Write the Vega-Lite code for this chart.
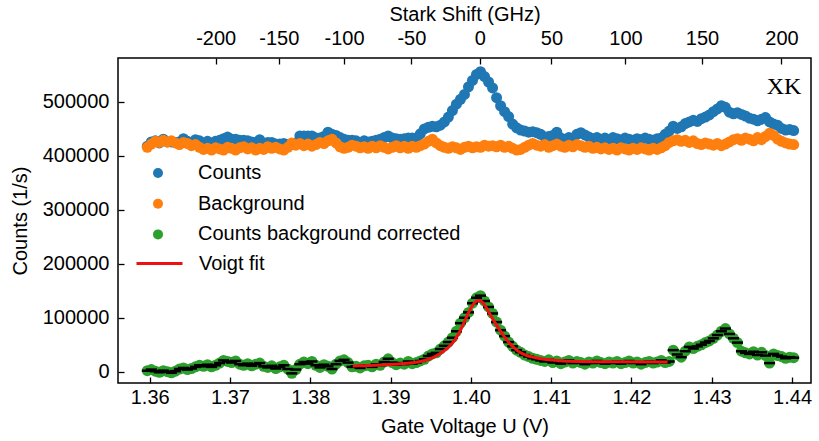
{
  "$schema": "https://vega.github.io/schema/vega-lite/v6.json",
  "width": 693,
  "height": 325,
  "autosize": {"type": "none"},
  "padding": {"left": 118, "top": 58, "right": 8, "bottom": 58},
  "background": "white",
  "config": {
    "font": "Liberation Sans",
    "view": {"stroke": "black", "strokeWidth": 1.5},
    "axis": {
      "grid": false,
      "domain": false,
      "labelFont": "Liberation Sans",
      "titleFont": "Liberation Sans",
      "labelFontSize": 20,
      "titleFontSize": 20,
      "titleFontWeight": "normal",
      "labelColor": "black",
      "titleColor": "black",
      "tickColor": "black",
      "tickWidth": 1.3,
      "tickSize": -6
    },
    "legend": {
      "title": null,
      "labelFont": "Liberation Sans",
      "labelFontSize": 20,
      "labelColor": "black",
      "labelLimit": 0
    }
  },
  "datasets": {
    "meas": [
      {"u":1.3597,"counts":418000,"background":416000,"corrected":2000},
      {"u":1.3602,"counts":426000,"background":422000,"corrected":4000},
      {"u":1.3607,"counts":428000,"background":427000,"corrected":1000},
      {"u":1.3612,"counts":424000,"background":425000,"corrected":-1000},
      {"u":1.3617,"counts":431000,"background":429000,"corrected":2000},
      {"u":1.3622,"counts":426000,"background":426000,"corrected":0},
      {"u":1.3627,"counts":426000,"background":428000,"corrected":-2000},
      {"u":1.3632,"counts":425000,"background":424000,"corrected":1000},
      {"u":1.3637,"counts":426000,"background":421000,"corrected":5000},
      {"u":1.3642,"counts":432000,"background":425000,"corrected":7000},
      {"u":1.3647,"counts":427000,"background":423000,"corrected":4000},
      {"u":1.3652,"counts":425000,"background":419000,"corrected":6000},
      {"u":1.3657,"counts":430000,"background":421000,"corrected":9000},
      {"u":1.3662,"counts":428000,"background":416000,"corrected":12000},
      {"u":1.3667,"counts":422000,"background":412000,"corrected":10000},
      {"u":1.3672,"counts":427000,"background":414000,"corrected":13000},
      {"u":1.3677,"counts":420000,"background":411000,"corrected":9000},
      {"u":1.3682,"counts":427000,"background":415000,"corrected":12000},
      {"u":1.3687,"counts":429000,"background":413000,"corrected":16000},
      {"u":1.3692,"counts":432000,"background":411000,"corrected":21000},
      {"u":1.3697,"counts":435000,"background":416000,"corrected":19000},
      {"u":1.3702,"counts":431000,"background":414000,"corrected":17000},
      {"u":1.3707,"counts":431000,"background":411000,"corrected":20000},
      {"u":1.3712,"counts":429000,"background":415000,"corrected":14000},
      {"u":1.3717,"counts":429000,"background":417000,"corrected":12000},
      {"u":1.3722,"counts":428000,"background":413000,"corrected":15000},
      {"u":1.3727,"counts":426000,"background":415000,"corrected":11000},
      {"u":1.3732,"counts":425000,"background":411000,"corrected":14000},
      {"u":1.3737,"counts":430000,"background":414000,"corrected":16000},
      {"u":1.3742,"counts":422000,"background":412000,"corrected":10000},
      {"u":1.3747,"counts":425000,"background":417000,"corrected":8000},
      {"u":1.3752,"counts":425000,"background":414000,"corrected":11000},
      {"u":1.3757,"counts":422000,"background":416000,"corrected":6000},
      {"u":1.3762,"counts":422000,"background":413000,"corrected":9000},
      {"u":1.3767,"counts":423000,"background":411000,"corrected":12000},
      {"u":1.3772,"counts":421000,"background":416000,"corrected":5000},
      {"u":1.3777,"counts":421000,"background":424000,"corrected":-3000},
      {"u":1.3782,"counts":424000,"background":420000,"corrected":4000},
      {"u":1.3787,"counts":437000,"background":423000,"corrected":14000},
      {"u":1.3792,"counts":437000,"background":419000,"corrected":18000},
      {"u":1.3797,"counts":437000,"background":422000,"corrected":15000},
      {"u":1.3802,"counts":437000,"background":418000,"corrected":19000},
      {"u":1.3807,"counts":433000,"background":421000,"corrected":12000},
      {"u":1.3812,"counts":433000,"background":425000,"corrected":8000},
      {"u":1.3817,"counts":436000,"background":423000,"corrected":13000},
      {"u":1.3822,"counts":444000,"background":428000,"corrected":10000},
      {"u":1.3827,"counts":440000,"background":431000,"corrected":5000},
      {"u":1.3832,"counts":438000,"background":424000,"corrected":14000},
      {"u":1.3837,"counts":434000,"background":417000,"corrected":20000},
      {"u":1.3842,"counts":431000,"background":414000,"corrected":22000},
      {"u":1.3847,"counts":429000,"background":416000,"corrected":17000},
      {"u":1.3852,"counts":429000,"background":420000,"corrected":9000},
      {"u":1.3857,"counts":428000,"background":418000,"corrected":10000},
      {"u":1.3862,"counts":422000,"background":415000,"corrected":7000},
      {"u":1.3867,"counts":428000,"background":417000,"corrected":11000},
      {"u":1.3872,"counts":426000,"background":414000,"corrected":12000},
      {"u":1.3877,"counts":427000,"background":418000,"corrected":9000},
      {"u":1.3882,"counts":429000,"background":415000,"corrected":14000},
      {"u":1.3887,"counts":431000,"background":419000,"corrected":12000},
      {"u":1.3892,"counts":434000,"background":416000,"corrected":18000},
      {"u":1.3897,"counts":437000,"background":413000,"corrected":24000},
      {"u":1.3902,"counts":433000,"background":416000,"corrected":17000},
      {"u":1.3907,"counts":432000,"background":419000,"corrected":13000},
      {"u":1.3912,"counts":431000,"background":415000,"corrected":16000},
      {"u":1.3917,"counts":432000,"background":418000,"corrected":14000},
      {"u":1.3922,"counts":433000,"background":414000,"corrected":19000},
      {"u":1.3927,"counts":433000,"background":418000,"corrected":15000},
      {"u":1.3932,"counts":433000,"background":416000,"corrected":17000},
      {"u":1.3937,"counts":441000,"background":419000,"corrected":20000},
      {"u":1.3942,"counts":450000,"background":422000,"corrected":23000},
      {"u":1.3947,"counts":453000,"background":427000,"corrected":29000},
      {"u":1.3952,"counts":455000,"background":431000,"corrected":33000},
      {"u":1.3957,"counts":454000,"background":424000,"corrected":35000},
      {"u":1.3962,"counts":457000,"background":419000,"corrected":42000},
      {"u":1.3967,"counts":463000,"background":416000,"corrected":48000},
      {"u":1.3972,"counts":472000,"background":414000,"corrected":55000},
      {"u":1.3977,"counts":484000,"background":417000,"corrected":63000},
      {"u":1.3982,"counts":496000,"background":415000,"corrected":75000},
      {"u":1.3987,"counts":505000,"background":412000,"corrected":90000},
      {"u":1.3992,"counts":514000,"background":416000,"corrected":100000},
      {"u":1.3997,"counts":528000,"background":418000,"corrected":110000},
      {"u":1.4002,"counts":540000,"background":415000,"corrected":127000},
      {"u":1.4007,"counts":551000,"background":417000,"corrected":137000},
      {"u":1.4012,"counts":556000,"background":416000,"corrected":141000},
      {"u":1.4017,"counts":547000,"background":420000,"corrected":131000},
      {"u":1.4022,"counts":537000,"background":418000,"corrected":120000},
      {"u":1.4027,"counts":526000,"background":419000,"corrected":108000},
      {"u":1.4032,"counts":508000,"background":417000,"corrected":92000},
      {"u":1.4037,"counts":493000,"background":420000,"corrected":77000},
      {"u":1.4042,"counts":482000,"background":416000,"corrected":66000},
      {"u":1.4047,"counts":473000,"background":418000,"corrected":55000},
      {"u":1.4052,"counts":459000,"background":414000,"corrected":47000},
      {"u":1.4057,"counts":452000,"background":411000,"corrected":40000},
      {"u":1.4062,"counts":448000,"background":412000,"corrected":36000},
      {"u":1.4067,"counts":446000,"background":416000,"corrected":31000},
      {"u":1.4072,"counts":444000,"background":420000,"corrected":28000},
      {"u":1.4077,"counts":445000,"background":423000,"corrected":25000},
      {"u":1.4082,"counts":443000,"background":420000,"corrected":23000},
      {"u":1.4087,"counts":440000,"background":418000,"corrected":21000},
      {"u":1.4092,"counts":435000,"background":421000,"corrected":19000},
      {"u":1.4097,"counts":436000,"background":416000,"corrected":22000},
      {"u":1.4102,"counts":438000,"background":419000,"corrected":17000},
      {"u":1.4107,"counts":444000,"background":422000,"corrected":20000},
      {"u":1.4112,"counts":433000,"background":418000,"corrected":15000},
      {"u":1.4117,"counts":431000,"background":416000,"corrected":18000},
      {"u":1.4122,"counts":434000,"background":420000,"corrected":21000},
      {"u":1.4127,"counts":432000,"background":417000,"corrected":16000},
      {"u":1.4132,"counts":440000,"background":421000,"corrected":19000},
      {"u":1.4137,"counts":443000,"background":419000,"corrected":17000},
      {"u":1.4142,"counts":439000,"background":416000,"corrected":14000},
      {"u":1.4147,"counts":435000,"background":418000,"corrected":18000},
      {"u":1.4152,"counts":432000,"background":414000,"corrected":16000},
      {"u":1.4157,"counts":434000,"background":416000,"corrected":20000},
      {"u":1.4162,"counts":431000,"background":413000,"corrected":17000},
      {"u":1.4167,"counts":433000,"background":415000,"corrected":15000},
      {"u":1.4172,"counts":430000,"background":412000,"corrected":18000},
      {"u":1.4177,"counts":434000,"background":414000,"corrected":16000},
      {"u":1.4182,"counts":432000,"background":411000,"corrected":19000},
      {"u":1.4187,"counts":429000,"background":415000,"corrected":15000},
      {"u":1.4192,"counts":433000,"background":413000,"corrected":17000},
      {"u":1.4197,"counts":431000,"background":411000,"corrected":20000},
      {"u":1.4202,"counts":429000,"background":414000,"corrected":16000},
      {"u":1.4207,"counts":432000,"background":412000,"corrected":18000},
      {"u":1.4212,"counts":430000,"background":415000,"corrected":14000},
      {"u":1.4217,"counts":433000,"background":413000,"corrected":17000},
      {"u":1.4222,"counts":431000,"background":411000,"corrected":19000},
      {"u":1.4227,"counts":429000,"background":414000,"corrected":16000},
      {"u":1.4232,"counts":432000,"background":412000,"corrected":18000},
      {"u":1.4237,"counts":433000,"background":415000,"corrected":21000},
      {"u":1.4242,"counts":440000,"background":419000,"corrected":17000},
      {"u":1.4247,"counts":446000,"background":425000,"corrected":19000},
      {"u":1.4252,"counts":455000,"background":428000,"corrected":40000},
      {"u":1.4257,"counts":451000,"background":430000,"corrected":32000},
      {"u":1.4262,"counts":454000,"background":427000,"corrected":27000},
      {"u":1.4267,"counts":460000,"background":429000,"corrected":38000},
      {"u":1.4272,"counts":463000,"background":425000,"corrected":46000},
      {"u":1.4277,"counts":466000,"background":428000,"corrected":43000},
      {"u":1.4282,"counts":464000,"background":423000,"corrected":47000},
      {"u":1.4287,"counts":469000,"background":421000,"corrected":50000},
      {"u":1.4292,"counts":472000,"background":424000,"corrected":54000},
      {"u":1.4297,"counts":476000,"background":422000,"corrected":57000},
      {"u":1.4302,"counts":482000,"background":420000,"corrected":62000},
      {"u":1.4307,"counts":487000,"background":423000,"corrected":68000},
      {"u":1.4312,"counts":493000,"background":419000,"corrected":75000},
      {"u":1.4317,"counts":490000,"background":422000,"corrected":80000},
      {"u":1.4322,"counts":481000,"background":426000,"corrected":70000},
      {"u":1.4327,"counts":478000,"background":430000,"corrected":62000},
      {"u":1.4332,"counts":480000,"background":432000,"corrected":54000},
      {"u":1.4337,"counts":477000,"background":429000,"corrected":38000},
      {"u":1.4342,"counts":474000,"background":433000,"corrected":35000},
      {"u":1.4347,"counts":470000,"background":431000,"corrected":33000},
      {"u":1.4352,"counts":468000,"background":428000,"corrected":37000},
      {"u":1.4357,"counts":465000,"background":434000,"corrected":31000},
      {"u":1.4362,"counts":468000,"background":430000,"corrected":36000},
      {"u":1.4367,"counts":471000,"background":436000,"corrected":30000},
      {"u":1.4372,"counts":463000,"background":442000,"corrected":16000},
      {"u":1.4377,"counts":459000,"background":438000,"corrected":33000},
      {"u":1.4382,"counts":457000,"background":431000,"corrected":30000},
      {"u":1.4387,"counts":451000,"background":427000,"corrected":28000},
      {"u":1.4392,"counts":448000,"background":424000,"corrected":25000},
      {"u":1.4397,"counts":449000,"background":422000,"corrected":27000},
      {"u":1.4402,"counts":447000,"background":421000,"corrected":26000}
    ],
    "fit": [
      {"u":1.3853,"fit":10500},{"u":1.3865,"fit":11200},{"u":1.388,"fit":12000},
      {"u":1.3895,"fit":13000},{"u":1.391,"fit":14200},{"u":1.392,"fit":15500},
      {"u":1.393,"fit":17200},{"u":1.394,"fit":20000},{"u":1.395,"fit":24500},
      {"u":1.3957,"fit":29500},{"u":1.3965,"fit":37000},{"u":1.3974,"fit":48000},
      {"u":1.398,"fit":59000},{"u":1.3986,"fit":74000},{"u":1.3992,"fit":93000},
      {"u":1.3998,"fit":112000},{"u":1.4003,"fit":125000},{"u":1.4008,"fit":131500},
      {"u":1.4012,"fit":131000},{"u":1.4017,"fit":124000},{"u":1.4023,"fit":109000},
      {"u":1.403,"fit":91000},{"u":1.4036,"fit":77000},{"u":1.4042,"fit":64000},
      {"u":1.4048,"fit":53000},{"u":1.4055,"fit":43000},{"u":1.4061,"fit":36000},
      {"u":1.4069,"fit":30500},{"u":1.4077,"fit":27000},{"u":1.409,"fit":23500},
      {"u":1.4111,"fit":20500},{"u":1.414,"fit":19000},{"u":1.418,"fit":18300},
      {"u":1.4245,"fit":17800}
    ],
    "note": [
      {"u":1.439,"y":527000,"text":"XK"}
    ]
  },
  "layer": [
    {
      "data": {"name": "meas"},
      "mark": {"type": "point", "filled": true, "shape": "circle", "size": 121, "opacity": 1},
      "encoding": {
        "x": {
          "field": "u", "type": "quantitative",
          "scale": {"domain": [1.35605, 1.44236], "nice": false, "zero": false},
          "axis": {
            "orient": "bottom",
            "values": [1.36, 1.37, 1.38, 1.39, 1.40, 1.41, 1.42, 1.43, 1.44],
            "format": ".2f",
            "labelPadding": 10,
            "titlePadding": 9,
            "title": "Gate Voltage U (V)"
          }
        },
        "y": {
          "field": "counts", "type": "quantitative",
          "scale": {"domain": [-20900, 581500], "nice": false, "zero": false},
          "axis": {"values": [0, 100000, 200000, 300000, 400000, 500000], "format": "d", "labelPadding": 15, "titlePadding": 12, "title": "Counts (1/s)"}
        },
        "color": {
          "datum": "Counts", "type": "nominal",
          "scale": {
            "domain": ["Counts", "Background", "Counts background corrected"],
            "range": ["#1f77b4", "#ff7f0e", "#2ca02c"]
          },
          "legend": {
            "orient": "none",
            "legendX": 30,
            "legendY": 105,
            "symbolType": "circle",
            "symbolSize": 100,
            "labelOffset": 30,
            "rowPadding": 10.7
          }
        }
      }
    },
    {
      "data": {"name": "meas"},
      "mark": {"type": "point", "filled": true, "shape": "circle", "size": 121, "opacity": 1},
      "encoding": {
        "x": {"field": "u", "type": "quantitative", "axis": null},
        "y": {
          "field": "background", "type": "quantitative",
          "axis": {"values": [0, 100000, 200000, 300000, 400000, 500000], "format": "d", "labelPadding": 15, "titlePadding": 12, "title": "Counts (1/s)"}
        },
        "color": {"datum": "Background", "type": "nominal"}
      }
    },
    {
      "data": {"name": "meas"},
      "mark": {"type": "point", "filled": true, "shape": "circle", "size": 121, "opacity": 1},
      "encoding": {
        "x": {"field": "u", "type": "quantitative", "axis": null},
        "y": {
          "field": "corrected", "type": "quantitative",
          "axis": {"values": [0, 100000, 200000, 300000, 400000, 500000], "format": "d", "labelPadding": 15, "titlePadding": 12, "title": "Counts (1/s)"}
        },
        "color": {"datum": "Counts background corrected", "type": "nominal"}
      }
    },
    {
      "data": {"name": "meas"},
      "mark": {"type": "tick", "orient": "horizontal", "size": 11, "thickness": 2.5, "color": "black", "opacity": 1},
      "encoding": {
        "x": {"field": "u", "type": "quantitative", "axis": null},
        "y": {
          "field": "corrected", "type": "quantitative",
          "axis": {"values": [0, 100000, 200000, 300000, 400000, 500000], "format": "d", "labelPadding": 15, "titlePadding": 12, "title": "Counts (1/s)"}
        }
      }
    },
    {
      "data": {"name": "fit"},
      "mark": {"type": "line", "strokeWidth": 3, "interpolate": "monotone"},
      "encoding": {
        "x": {"field": "u", "type": "quantitative", "axis": null},
        "y": {
          "field": "fit", "type": "quantitative",
          "axis": {"values": [0, 100000, 200000, 300000, 400000, 500000], "format": "d", "labelPadding": 15, "titlePadding": 12, "title": "Counts (1/s)"}
        },
        "stroke": {
          "datum": "Voigt fit", "type": "nominal",
          "scale": {"domain": ["Voigt fit"], "range": ["#ee1111"]},
          "legend": {
            "orient": "none",
            "legendX": 17,
            "legendY": 181,
            "symbolType": "stroke",
            "symbolSize": 2116,
            "symbolStrokeWidth": 3,
            "labelOffset": 15
          }
        }
      }
    },
    {
      "data": {"name": "note"},
      "mark": {"type": "text", "font": "Liberation Serif", "fontSize": 24, "color": "black", "align": "center", "baseline": "middle"},
      "encoding": {
        "x": {
          "field": "u", "type": "quantitative",
          "axis": {
            "orient": "top",
            "values": [1.36822, 1.37607, 1.3842, 1.39259, 1.4011, 1.41003, 1.41925, 1.42879, 1.43868],
            "labelExpr": "datum.value < 1.372 ? '-200' : datum.value < 1.38 ? '-150' : datum.value < 1.388 ? '-100' : datum.value < 1.397 ? '-50' : datum.value < 1.405 ? '0' : datum.value < 1.414 ? '50' : datum.value < 1.424 ? '100' : datum.value < 1.433 ? '150' : '200'",
            "labelPadding": 16,
            "title": "Stark Shift (GHz)"
          }
        },
        "y": {
          "field": "y", "type": "quantitative",
          "axis": {"values": [0, 100000, 200000, 300000, 400000, 500000], "format": "d", "labelPadding": 15, "titlePadding": 12, "title": "Counts (1/s)"}
        },
        "text": {"field": "text"}
      }
    }
  ],
  "resolve": {"axis": {"x": "independent", "y": "shared"}}
}
